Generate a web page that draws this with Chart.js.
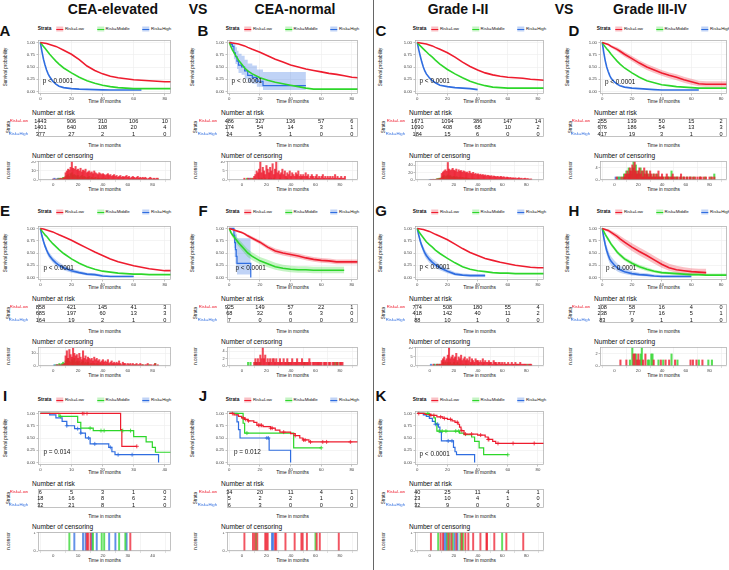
<!DOCTYPE html>
<html><head><meta charset="utf-8">
<script src="https://cdn.jsdelivr.net/npm/chart.js@4.4.1/dist/chart.umd.min.js"></script>
<style>
body{margin:0;width:729px;height:570px;position:relative;background:#fff;font-family:"Liberation Sans",Arial,sans-serif;overflow:hidden}
.t{position:absolute;white-space:nowrap;color:#111;line-height:1}
canvas{position:absolute}
</style></head><body>
<script>
// ---------- data ----------
const strata = ['Risk=Low', 'Risk=Middle', 'Risk=High'];
const gridT = [0,1,2,3,4,5,6,8,10,12,15,20,25,30,35,40,45,50,55,60,65,70,75,80,84];
const xTicks80 = [0,20,40,60,80];
const xTicks40 = [0,10,20,30,40];

// A  CEA-elevated
const survA_low  = [1,.995,.99,.985,.98,.97,.96,.94,.92,.89,.84,.76,.65,.52,.43,.36,.31,.28,.26,.24,.23,.22,.21,.2,.2];
const survA_mid  = [1,.96,.92,.88,.84,.8,.76,.69,.62,.56,.48,.38,.29,.22,.17,.13,.1,.08,.07,.06,.06,.06,.06,.06,.06];
const survA_high = [1,.82,.66,.54,.44,.36,.3,.21,.15,.11,.08,.06,.05,.045,.04,.035,.03,.03,.03,.03,.03];
const riskA_low = [1443,906,310,106,10], riskA_mid = [1401,640,108,20,4], riskA_high = [377,27,2,1,0];
const censA_low  = [1,0,1,0,1,1,2,1,2,3,8,10,12,11,14,20,13,12,15,11,12,10,13,9,11,10,12,8,9,10,8,9,7,10,8,7,6,8,7,6,7,6,5,6,7,5,6,4,5,6,4,5,3,4,5,3,4,3,4,5,3,4,2,3,4,3,2,3,4,2,3,2,3,2,3,2,1,2,3,2,1,2,1,2,2];
const censA_mid  = [0,0,0,1,1,2,1,2,3,2,4,5,6,4,7,8,5,6,5,4,5,3,4,5,3,4,3,2,3,4,2,3,2,2,3,1,2,2,1,2,1,1,2,1,1,1,0,1,1,0,1,0,1,0,1,0,1,0,0,1,0,1,0,0,1,0,0,1,0,0,1,0,0,0,1,0,0,0,1,0,0,1,0,0,1];
const censA_high = [1,2,1,1,2,1,1,1,0,1,1,0,1,0,1,0,0,1];

// B  CEA-normal
const survB_low = [1,.995,.99,.985,.98,.975,.97,.95,.93,.9,.86,.8,.73,.66,.6,.54,.5,.46,.43,.4,.37,.35,.32,.29,.28];
const survB_mid = [1,.92,.85,.8,.74,.69,.64,.56,.48,.42,.36,.28,.23,.19,.16,.13,.1,.07,.05,.05,.05,.05,.05,.05,.05];
const timeB_high = [0,1,2,3,4,5,6,8,10,12,15,18,22,50];
const survB_high = [1,.96,.92,.79,.71,.62,.54,.5,.42,.33,.29,.21,.12,.12];
const upB_high   = [1,1,1,.97,.9,.83,.77,.73,.65,.57,.53,.45,.4,.4];
const loB_high   = [1,.88,.82,.66,.56,.46,.38,.34,.26,.19,.16,.1,.03,0];
const riskB_low = [486,327,136,57,6], riskB_mid = [174,54,14,3,1], riskB_high = [24,5,1,0,0];
const censB_low = [0,0,1,0,0,1,0,1,0,1,2,3,5,4,6,10,4,7,5,3,8,6,4,7,5,9,3,6,10,4,5,3,4,6,3,5,2,4,3,5,2,4,3,2,4,3,5,2,3,2,3,2,4,2,3,1,2,3,2,1,2,3,1,2,1,2,3,1,2,1,2,1,2,1,2,1,3,1,2,1,1,2,1,1,2];
const censB_mid = [0,0,0,0,1,0,0,0,1,0,0,1,0,0,1,0,1,0,0,1,0,0,1,0,0,0,1,0,0,0,0,1,0,0,0,0,0,1,0,0,0,0,0,0,0,0,0,0,1,0,0,0,0,0,0,0,0,0,0,0,0,1];
const censB_high = [0,0,0,0,0,0,1,0,0,0,0,0,0,0,0,0,1,0,0,0,0,0,0,0,1];

// C  Grade I-II
const survC_low  = [1,.995,.99,.985,.98,.975,.97,.95,.93,.9,.86,.79,.7,.6,.51,.44,.38,.34,.31,.29,.28,.27,.25,.24,.23];
const survC_mid  = [1,.96,.93,.9,.87,.84,.81,.75,.7,.64,.56,.45,.36,.28,.21,.16,.12,.09,.08,.07,.07,.07,.07,.07,.07];
const survC_high = [1,.85,.72,.6,.5,.42,.36,.28,.22,.18,.13,.1,.08,.07,.06,.04];
const riskC_low = [1671,1094,386,147,14], riskC_mid = [1090,408,68,10,2], riskC_high = [184,15,6,0,0];
const censC_low  = [0,1,1,2,1,2,3,2,4,5,18,22,25,28,24,48,30,26,28,32,27,25,30,22,28,24,26,21,25,23,20,22,18,24,19,17,21,16,18,15,17,14,16,13,15,12,14,11,13,12,10,12,9,11,10,8,10,9,8,10,7,9,8,6,8,7,6,7,5,6,5,6,4,5,6,4,5,3,4,5,3,4,3,2,3];
const censC_mid  = [0,0,1,1,2,2,3,4,5,4,8,10,12,9,11,14,10,12,9,8,10,7,9,8,6,8,5,7,6,5,6,4,5,4,3,4,3,4,2,3,2,3,2,2,1,2,1,2,1,1,1,1,0,1,1,0,1,0,1,0,1,0,1,0,0,1,0,0,1,0,0,1,0,0,0,1,0,0,0,1,0,0,1,0,0];
const censC_high = [1,2,1,2,1,1,1,0,1,1,1,1,0,1,0,1,0,0,1,0,0,1,0,0,0,1];

// D  Grade III-IV
const survD_low  = [1,.99,.98,.97,.96,.94,.92,.89,.86,.82,.76,.67,.58,.5,.44,.38,.33,.29,.24,.2,.16,.15,.15,.15,.15];
const upD_low    = [1,1,.99,.985,.98,.965,.95,.925,.9,.865,.81,.725,.64,.56,.5,.44,.39,.35,.3,.26,.22,.21,.21,.21,.21];
const loD_low    = [1,.98,.97,.955,.94,.915,.89,.855,.82,.775,.71,.615,.52,.44,.38,.32,.27,.23,.18,.14,.11,.1,.1,.1,.1];
const survD_mid  = [1,.95,.91,.87,.84,.8,.76,.69,.62,.56,.48,.38,.29,.22,.18,.14,.12,.1,.09,.08,.07,.07,.07,.07,.07];
const survD_high = [1,.8,.63,.5,.41,.33,.27,.2,.15,.12,.09,.07,.06,.05,.04,.03,.03,.03,.03,.03,.03];
const riskD_low = [255,139,50,15,2], riskD_mid = [676,186,54,13,3], riskD_high = [417,19,3,1,0];
const censD_low  = [0,0,1,0,0,0,1,0,1,2,2,3,2,4,3,5,4,6,3,2,3,4,2,3,1,4,2,3,2,1,3,2,1,2,1,2,1,3,1,1,2,1,0,1,2,1,0,1,1,2,1,0,1,1,0,1,2,0,1,1,0,1,0,1,1,0,1,0,1,0,1,0,1,1,0,1,0,1,0,0,1,0,1,0,1];
const censD_mid  = [0,0,0,1,0,1,0,1,2,1,3,2,4,3,2,4,6,3,5,2,3,2,4,1,3,2,1,3,2,1,2,1,1,2,1,0,2,1,1,0,1,1,0,1,0,1,1,0,3,1,0,1,0,1,0,0,1,0,1,0,0,1,0,0,1,0,0,1,0,0,0,0,1,0,0,0,1,0,0,0,0,1,0,0,2];
const censD_high = [0,1,0,0,1,0,0,0,1,0,0,0,1,0,0,0,0,1];

// E  CEA-elevated
const survE_low  = [1,.995,.99,.98,.97,.96,.95,.93,.9,.87,.83,.76,.68,.6,.52,.45,.38,.32,.28,.24,.21,.18,.16,.14,.14];
const survE_mid  = [1,.95,.91,.87,.84,.8,.76,.69,.63,.57,.49,.38,.29,.22,.17,.13,.11,.09,.08,.07,.07,.06,.06,.06,.06];
const survE_high = [1,.85,.74,.64,.56,.49,.44,.36,.3,.25,.2,.14,.1,.07,.06,.03,.02,.02,.02,.02];
const upE_high   = [1,.89,.79,.7,.62,.55,.5,.42,.36,.31,.25,.18,.14,.1,.09,.06,.04,.04,.04,.04];
const loE_high   = [1,.81,.69,.59,.5,.43,.38,.3,.24,.2,.15,.1,.07,.04,.03,.01,.01,.01,.01,.01];
const riskE_low = [858,421,145,41,3], riskE_mid = [685,197,60,13,3], riskE_high = [164,19,2,1,0];
const censE_low  = [0,0,0,1,0,1,0,1,1,2,8,12,6,13,9,7,14,10,8,9,6,10,7,5,12,6,8,5,7,6,5,6,4,7,5,6,4,5,3,4,5,3,4,3,5,2,3,4,2,3,2,3,2,4,2,1,3,2,2,1,2,1,2,1,2,1,1,2,1,1,2,1,1,0,1,1,2,0,1,1,0,1,2,0,1];
const censE_mid  = [0,0,1,0,1,2,1,2,3,2,4,5,6,4,3,5,4,6,3,4,3,4,2,3,4,2,3,2,3,1,2,2,1,2,1,2,1,1,2,1,1,0,1,1,0,1,0,1,0,1,0,1,0,0,1,0,0,1,0,0,0,1,0,0,0,0,1,0,0,0,0,0,1,0,0,0,0,1,0,0,0,0,2,0,0];
const censE_high = [0,1,0,1,0,0,1,0,0,1,0,0,1,0,0,0,1,0,0,0,0,1];

// F  CEA-normal
const survF_low = [1,.99,.98,.97,.96,.95,.94,.92,.89,.85,.8,.72,.62,.54,.5,.47,.44,.4,.37,.35,.34,.32,.32,.32,.32];
const upF_low   = [1,1,.99,.985,.975,.97,.96,.945,.915,.88,.835,.76,.665,.59,.55,.52,.49,.45,.42,.4,.39,.37,.37,.37,.37];
const loF_low   = [1,.98,.97,.955,.945,.93,.92,.895,.865,.82,.765,.68,.575,.49,.45,.42,.39,.35,.32,.3,.29,.27,.27,.27,.27];
const survF_mid = [1,.92,.87,.83,.79,.75,.71,.64,.57,.5,.43,.34,.28,.22,.19,.17,.16,.16,.15,.15,.15,.15,.15];
const upF_mid   = [1,.96,.92,.89,.85,.82,.78,.72,.65,.58,.51,.42,.36,.3,.26,.24,.23,.23,.22,.22,.22,.22,.22];
const loF_mid   = [1,.88,.82,.77,.73,.68,.64,.56,.49,.42,.35,.27,.21,.16,.13,.11,.1,.1,.09,.09,.09,.09,.09];
const timeF_high = [0,3,3.5,4,4.5,5,14];
const survF_high = [1,.86,.71,.57,.43,.29,0];
const upF_high   = [1,1,.99,.95,.88,.8,.8];
const loF_high   = [1,.6,.42,.28,.15,.06,.06];
const riskF_low = [925,149,57,22,1], riskF_mid = [68,32,6,3,0], riskF_high = [7,0,0,0,0];
const censF_low  = [0,0,0,0,0,0,0,0,0,0,1,2,1,2,1,3,2,5,2,3,1,2,1,2,1,2,2,1,2,1,1,2,1,1,2,1,1,2,1,1,1,2,1,1,1,2,1,1,1,2,1,1,1,1,1,2,1,0,1,1,1,1,1,1,1,1,0,1,1,1,0,1,1,0,1,1,0,1,1,0,1,1,1,0,0];
const censF_mid  = [0,0,0,0,0,1,0,1,0,0,0,1,0,0,0,1,0,0,0,0,0,0,1,0,0,0,0,0,0,0,0,0,0,0,0,0,0,0,1,0,0,0,0,0,0,0,0,0,0,0,0,1,0,0,0,0,0,0,0,0,0,0,0,0,0,0,0,0,0,0,0,0,0,0,0,0,1,0,1,0];
const censF_high = [0,0,0,0,0,0,0,0,0,0,0,0,1];

// G  Grade I-II
const survG_low  = [1,.995,.99,.985,.98,.97,.96,.94,.91,.88,.84,.77,.68,.59,.51,.45,.39,.35,.31,.28,.25,.23,.21,.2,.2];
const survG_mid  = [1,.94,.89,.85,.81,.77,.73,.67,.62,.56,.49,.39,.3,.22,.17,.14,.12,.1,.09,.09,.08,.08,.08,.08,.08];
const survG_high = [1,.86,.74,.65,.57,.5,.45,.37,.31,.26,.2,.13,.07,.05,.04,.04,.04];
const upG_high   = [1,.9,.8,.71,.64,.57,.52,.44,.38,.33,.26,.18,.11,.08,.07,.07,.07];
const loG_high   = [1,.82,.68,.59,.5,.43,.38,.3,.25,.2,.15,.09,.04,.03,.02,.02,.02];
const riskG_low = [774,508,180,55,4], riskG_mid = [418,142,40,11,2], riskG_high = [88,10,1,0,0];
const censG_low  = [0,0,0,1,0,0,1,0,1,1,3,4,5,3,4,6,10,4,5,6,4,5,7,3,5,4,6,3,4,5,3,4,3,5,2,4,3,2,4,3,3,2,3,2,4,2,3,2,2,3,2,2,1,3,2,2,1,2,2,1,2,1,2,1,1,2,1,1,2,1,1,2,1,1,1,2,1,1,1,1,1,0,1,1,1];
const censG_mid  = [0,0,0,0,1,0,1,0,1,0,1,2,1,2,1,2,1,2,1,1,2,1,1,2,1,1,0,1,1,0,1,0,1,0,1,0,0,1,0,0,1,0,0,0,1,0,0,0,0,1,0,0,0,0,0,1,0,0,0,0,0,0,0,1,0,0,0,0,0,0,0,0,1,0,0,0,0,0,0,0,0,1,0,0,0];
const censG_high = [0,1,0,0,1,0,0,1,0,0,0,1,0,0,0,1];

// H  Grade III-IV
const survH_low  = [1,.99,.98,.97,.96,.94,.92,.88,.84,.79,.72,.62,.53,.45,.36,.27,.2,.16,.14,.12,.11,.1];
const upH_low    = [1,1,1,.99,.99,.975,.96,.93,.89,.85,.79,.7,.61,.53,.44,.35,.28,.24,.21,.19,.18,.18];
const loH_low    = [1,.97,.955,.94,.925,.9,.875,.83,.78,.72,.65,.54,.45,.37,.28,.2,.14,.1,.08,.06,.05,.05];
const survH_mid  = [1,.94,.88,.83,.78,.73,.68,.6,.52,.46,.38,.29,.22,.17,.13,.1,.09,.08,.07,.06,.06,.05,.05,.05,.05];
const upH_mid    = [1,.96,.91,.865,.82,.77,.72,.64,.56,.5,.42,.33,.26,.21,.16,.13,.12,.11,.1,.09,.09,.08,.08,.08,.08];
const loH_mid    = [1,.92,.85,.795,.74,.69,.64,.56,.48,.42,.34,.25,.18,.13,.1,.07,.06,.05,.04,.03,.03,.03,.03,.03,.03];
const survH_high = [1,.82,.67,.55,.46,.38,.33,.26,.2,.16,.12,.08,.06,.05,.03,.02,.02,.02,.02,.02];
const upH_high   = [1,.89,.76,.65,.56,.48,.43,.35,.29,.24,.19,.13,.1,.09,.06,.05,.05,.05,.05,.05];
const loH_high   = [1,.74,.58,.46,.37,.29,.25,.18,.13,.1,.07,.04,.03,.02,.01,.005,.005,.005,.005,.005];
const riskH_low = [108,58,16,4,0], riskH_mid = [238,77,16,5,1], riskH_high = [83,9,1,1,0];
const censH_lowT = [5,10,16,17,19,20,21,24,26,33,39,43,46,51,64,66,69,74];
const censH_lowN = [1,1,2,2,1,2,1,1,2,1,1,1,1,1,1,1,1,1];
const censH_midT = [13,15,18,22,23,28,29,31,32,37,41,48,53,71,79,82];
const censH_midN = [1,3,2,2,3,1,1,2,2,1,1,2,1,1,1,1];

// I  CEA-elevated (small)
const timeI_low = [0,25.8,26.2,31], survI_low = [1,.67,.33,.33];
const timeI_mid = [0,6,12,13,17,30,34,36,37,42], survI_mid = [1,.94,.82,.7,.65,.53,.42,.31,.21,.21];
const timeI_high = [0,3,5,7,8.5,11,13,14.5,16,22,23,24,38], survI_high = [1,.97,.91,.84,.75,.69,.6,.5,.38,.31,.22,.16,0];
const riskI_low = [6,5,3,1,0], riskI_mid = [18,16,8,6,2], riskI_high = [32,21,8,1,0];
const censI_low = [13.5,14,15,31], censI_mid = [6.5,16,19.5,20.5,26.5,29], censI_high = [8.5,12,13,15.5,17.5,22.5,25,29.5];

// J  CEA-normal (small)
const timeJ_low = [0,3,6,8,10,12,16,18,22,27,30,33,40,43,46,48,52,84];
const survJ_low = [1,.97,.94,.91,.88,.85,.82,.76,.73,.7,.66,.62,.59,.55,.5,.46,.42,.42];
const timeJ_mid = [0,9,10,42,60], survJ_mid = [1,.8,.6,.3,.3];
const timeJ_high = [0,5,6,7,26,40], survJ_high = [1,.83,.67,.5,.25,0];
const riskJ_low = [34,20,11,4,1], riskJ_mid = [5,2,2,1,0], riskJ_high = [6,3,0,0,0];
const censJ_low = [2,9,10.5,12.5,19,20,21,27,28,35.5,43,48.5,49.5,53,61,63.5,79], censJ_mid = [11.5,60], censJ_high = [24.5,25.5];

// K  Grade I-II (small)
const timeK_low = [0,5,9,13,17,20,23,25,27,28,29,31,40,45,47,50,52,84];
const survK_low = [1,.98,.96,.93,.9,.88,.85,.82,.78,.72,.65,.58,.56,.52,.47,.43,.39,.39];
const timeK_mid = [0,8,11,12,13,28,31,36,38,41,44,60], survK_mid = [1,.96,.91,.8,.64,.6,.57,.52,.43,.3,.16,.16];
const timeK_high = [0,4,6,8,10,12,14,15,16,24,25,26,38], survK_high = [1,.97,.94,.9,.84,.78,.72,.62,.44,.31,.22,.16,0];
const riskK_low = [40,25,11,4,1], riskK_mid = [23,10,4,1,0], riskK_high = [32,9,0,0,0];
const censK_low = [1,9,11,15.5,18,22,26.5,29.5,32,36,42,47,47.5,53.5,63.5,77.5], censK_mid = [7,14.5,16.5,19,25.5,27.5,60], censK_high = [12,13.5,20.5,23];

// ---------- style / layout ----------
const FONT = '"Liberation Sans", Arial, sans-serif';
const cols  = ['#ee1c2e', '#2dd62a', '#2f6de0'];
const light = ['rgba(238,28,46,0.28)', 'rgba(45,214,42,0.28)', 'rgba(47,109,224,0.3)'];
const barCol = ['rgba(238,28,46,0.8)', 'rgba(45,214,42,0.8)', 'rgba(47,109,224,0.8)'];
const tickCol = ['rgba(238,28,46,0.75)', 'rgba(45,214,42,0.75)', 'rgba(47,109,224,0.75)'];
const colL = [38, 227, 415, 600], colR = [171, 358, 544, 727];
const colTitleX = [6, 193, 381, 568];
const rowY = [40, 226, 411];
const letterX = [5, 203, 381, 574], letterY = [30, 210, 395], legendY = [29, 212, 400];

function lab(s, x, y, size, css) {
  const d = document.createElement('div');
  d.className = 't';
  d.textContent = s;
  d.style.cssText += 'left:' + x + 'px;top:' + y + 'px;font-size:' + size + 'px;' + (css || '');
  document.body.appendChild(d);
  return d;
}
const C = 'transform:translate(-50%,-50%);';
const LM = 'transform:translate(0,-50%);';
const ROT = 'transform:translate(-50%,-50%) rotate(-90deg);';

function mkCanvas(x, y, w, h) {
  const c = document.createElement('canvas');
  c.width = w; c.height = h;
  c.style.left = x + 'px'; c.style.top = y + 'px';
  c.style.width = w + 'px'; c.style.height = h + 'px';
  document.body.appendChild(c);
  return c;
}
function stepAt(t, s, tc) {
  let k = 0;
  while (k + 1 < t.length && t[k + 1] <= tc) k++;
  return s[k];
}
const frame = {
  id: 'frame',
  afterDatasetsDraw(chart) {
    const a = chart.chartArea, ctx = chart.ctx;
    ctx.save(); ctx.strokeStyle = '#a8a8a8'; ctx.lineWidth = 0.7;
    ctx.strokeRect(a.left + 0.5, a.top + 0.5, a.right - a.left - 1, a.bottom - a.top - 1);
    ctx.restore();
  }
};
function xScale(xmin, xmax, xt, h) {
  return {
    type: 'linear', min: xmin, max: xmax,
    afterBuildTicks: s => { s.ticks = xt.map(v => ({value: v})); },
    afterFit: s => { s.height = h; s.paddingLeft = 0; s.paddingRight = 0; },
    ticks: {font: {family: FONT, size: 4.3}, color: '#444', padding: 1, maxRotation: 0, autoSkip: false},
    grid: {color: '#ececec', lineWidth: 0.6, tickLength: 1.5, tickColor: '#999'},
    border: {display: false}
  };
}

function panel(p) {
  const L = colL[p.col], R = colR[p.col], y0 = rowY[p.row], tx = colTitleX[p.col];
  const W = R - L, cx = (L + R) / 2;
  const xt = p.xmax > 50 ? xTicks80 : xTicks40;
  const xmin = -p.xmax * 0.018, xmax = p.xmax;

  lab(p.id, letterX[p.col], letterY[p.row], 15, C + 'font-weight:bold;');

  // legend
  const lg = document.createElement('div');
  lg.className = 't';
  lg.style.cssText += 'left:' + cx + 'px;top:' + legendY[p.row] + 'px;font-size:4.4px;display:flex;align-items:center;' + C;
  let html = '<b style="margin-right:5px;font-size:4.8px">Strata</b>';
  strata.forEach((s, i) => {
    html += '<span style="display:inline-block;width:7px;height:5px;margin-right:1.5px;background:linear-gradient(to bottom,transparent 40%,' + cols[i] + ' 40%,' + cols[i] + ' 60%,transparent 60%),' + light[i] + '"></span><span style="margin-right:' + (i < 2 ? 13 : 0) + 'px">' + s + '</span>';
  });
  lg.innerHTML = html;
  document.body.appendChild(lg);

  // survival curves
  lab('Survival probability', tx, y0 + 27, 4.6, ROT);
  lab('Time in months', cx, y0 + 62, 4.8, C);
  const ds = [];
  p.curves.forEach((c, i) => {
    const t = c.t || gridT;
    const st = !!c.step;
    ds.push({data: c.s.map((v, k) => ({x: t[k], y: v})), borderColor: cols[i], borderWidth: st ? 1.2 : 1.6, pointRadius: 0, stepped: st, fill: false, order: 1});
    if (c.up) {
      ds.push({data: c.up.map((v, k) => ({x: t[k], y: v})), borderColor: 'transparent', borderWidth: 1, pointRadius: 0, stepped: st, fill: false, order: 2});
      ds.push({data: c.lo.map((v, k) => ({x: t[k], y: v})), borderColor: 'transparent', borderWidth: 1, pointRadius: 0, stepped: st, fill: '-1', backgroundColor: light[i], order: 2});
    }
    if (p.marks) {
      ds.push({data: p.marks[i].map(tc => ({x: tc, y: stepAt(t, c.s, tc)})), showLine: false, pointStyle: 'cross', pointRadius: 2, borderColor: cols[i], borderWidth: 0.8, order: 0});
    }
  });
  const pv = {
    id: 'pv',
    afterDatasetsDraw(chart) {
      const ctx = chart.ctx;
      ctx.save(); ctx.font = '6.4px ' + FONT; ctx.fillStyle = '#111'; ctx.textBaseline = 'middle';
      ctx.fillText(p.p, chart.scales.x.getPixelForValue(p.pAt[0]), chart.scales.y.getPixelForValue(p.pAt[1]));
      ctx.restore();
    }
  };
  new Chart(mkCanvas(L - 24, y0 - 3, W + 26, 54 + 3 + 7), {
    type: 'line',
    data: {datasets: ds},
    options: {
      responsive: false, animation: false, events: [],
      layout: {autoPadding: false, padding: {top: 3, right: 2, left: 0, bottom: 0}},
      plugins: {legend: {display: false}, tooltip: {enabled: false}},
      scales: {
        x: xScale(xmin, xmax, xt, 7),
        y: {
          min: -0.05, max: 1.05,
          afterBuildTicks: s => { s.ticks = [0, .25, .5, .75, 1].map(v => ({value: v})); },
          afterFit: s => { s.width = 24; s.paddingTop = 0; s.paddingBottom = 0; },
          ticks: {font: {family: FONT, size: 4.3}, color: '#444', padding: 1.5, callback: v => v.toFixed(2)},
          grid: {color: '#ececec', lineWidth: 0.6, tickLength: 1.5, tickColor: '#999'},
          border: {display: false}
        }
      }
    },
    plugins: [frame, pv]
  });

  // number at risk
  lab('Number at risk', L - 6, y0 + 73, 6.6, LM);
  lab('Strata', tx + 3, y0 + 87, 4.6, ROT);
  lab('Time in months', cx, y0 + 106, 4.8, C);
  const rt = {
    id: 'rt',
    afterDatasetsDraw(chart) {
      const ctx = chart.ctx, xs = chart.scales.x, ys = chart.scales.y;
      ctx.save(); ctx.font = '5.6px ' + FONT; ctx.fillStyle = '#111'; ctx.textBaseline = 'middle'; ctx.textAlign = 'center';
      p.risk.forEach((row, r) => row.forEach((v, k) => ctx.fillText(String(v), xs.getPixelForValue(xt[k]), ys.getPixelForValue(r) + 0.3)));
      ctx.restore();
    }
  };
  new Chart(mkCanvas(L - 36, y0 + 78, W + 38, 19 + 6), {
    type: 'line',
    data: {datasets: []},
    options: {
      responsive: false, animation: false, events: [],
      layout: {autoPadding: false, padding: {top: 0, right: 2, left: 0, bottom: 0}},
      plugins: {legend: {display: false}, tooltip: {enabled: false}},
      scales: {
        x: Object.assign(xScale(xmin, xmax, xt, 6), {grid: {display: false}}),
        y: {
          type: 'category', labels: strata, offset: true,
          afterFit: s => { s.width = 36; s.paddingTop = 0; s.paddingBottom = 0; },
          ticks: {font: {family: FONT, size: 4.2}, color: c => cols[c.index], padding: 2},
          grid: {display: false}, border: {display: false}
        }
      }
    },
    plugins: [frame, rt]
  });

  // number of censoring
  lab('Number of censoring', L - 6, y0 + 116, 6.6, LM);
  lab('n.censor', tx + 3, y0 + 130, 4.6, ROT);
  lab('Time in months', cx, y0 + 150, 4.8, C);
  const bd = p.cens.map((c, i) => {
    let pts;
    if (c.t && c.n) pts = c.t.map((t, k) => ({x: t, y: c.n[k]}));
    else if (c.t) pts = c.t.map(t => ({x: t, y: 1}));
    else pts = c.m.map((v, k) => ({x: k, y: v})).filter(d => d.y > 0);
    return {data: pts, backgroundColor: p.marks ? tickCol[i] : barCol[i], barThickness: p.marks ? 1.3 : 1.4, grouped: false};
  });
  new Chart(mkCanvas(L - 20, y0 + 121, W + 22, 19 + 6), {
    type: 'bar',
    data: {datasets: bd},
    options: {
      responsive: false, animation: false, events: [],
      layout: {autoPadding: false, padding: {top: 0, right: 2, left: 0, bottom: 0}},
      plugins: {legend: {display: false}, tooltip: {enabled: false}},
      scales: {
        x: xScale(xmin, xmax, xt, 6),
        y: {
          min: 0, max: p.censMax,
          afterBuildTicks: s => { s.ticks = p.censTicks.map(v => ({value: v})); },
          afterFit: s => { s.width = 20; s.paddingTop = 0; s.paddingBottom = 0; },
          ticks: {font: {family: FONT, size: 3.8}, color: '#444', padding: 1},
          grid: {color: '#ececec', lineWidth: 0.6, tickLength: 1.5, tickColor: '#999'},
          border: {display: false}
        }
      }
    },
    plugins: [frame]
  });
}

const panels = [
  {id: 'A', col: 0, row: 0, xmax: 84, p: 'p < 0.0001', pAt: [1.5, 0.2],
   curves: [{s: survA_low}, {s: survA_mid}, {s: survA_high}],
   risk: [riskA_low, riskA_mid, riskA_high], cens: [{m: censA_low}, {m: censA_mid}, {m: censA_high}], censMax: 21, censTicks: [0, 5, 10, 15, 20]},
  {id: 'B', col: 1, row: 0, xmax: 84, p: 'p < 0.0001', pAt: [1.5, 0.2],
   curves: [{s: survB_low}, {s: survB_mid}, {t: timeB_high, s: survB_high, up: upB_high, lo: loB_high, step: true}],
   risk: [riskB_low, riskB_mid, riskB_high], cens: [{m: censB_low}, {m: censB_mid}, {m: censB_high}], censMax: 10.5, censTicks: [0, 2.5, 5, 7.5, 10]},
  {id: 'C', col: 2, row: 0, xmax: 84, p: 'p < 0.0001', pAt: [1.5, 0.2],
   curves: [{s: survC_low}, {s: survC_mid}, {s: survC_high}],
   risk: [riskC_low, riskC_mid, riskC_high], cens: [{m: censC_low}, {m: censC_mid}, {m: censC_high}], censMax: 52, censTicks: [0, 10, 20, 30, 40, 50]},
  {id: 'D', col: 3, row: 0, xmax: 84, p: 'p < 0.0001', pAt: [1.8, 0.18],
   curves: [{s: survD_low, up: upD_low, lo: loD_low}, {s: survD_mid}, {s: survD_high}],
   risk: [riskD_low, riskD_mid, riskD_high], cens: [{m: censD_low}, {m: censD_mid}, {m: censD_high}], censMax: 6.3, censTicks: [0, 2, 4, 6]},
  {id: 'E', col: 0, row: 1, xmax: 84, p: 'p < 0.0001', pAt: [2, 0.18],
   curves: [{s: survE_low}, {s: survE_mid}, {s: survE_high, up: upE_high, lo: loE_high}],
   risk: [riskE_low, riskE_mid, riskE_high], cens: [{m: censE_low}, {m: censE_mid}, {m: censE_high}], censMax: 15, censTicks: [0, 5, 10, 15]},
  {id: 'F', col: 1, row: 1, xmax: 84, p: 'p < 0.0001', pAt: [4, 0.18],
   curves: [{s: survF_low, up: upF_low, lo: loF_low}, {s: survF_mid, up: upF_mid, lo: loF_mid}, {t: timeF_high, s: survF_high, up: upF_high, lo: loF_high, step: true}],
   risk: [riskF_low, riskF_mid, riskF_high], cens: [{m: censF_low}, {m: censF_mid}, {m: censF_high}], censMax: 5.2, censTicks: [0, 1, 2, 3, 4, 5]},
  {id: 'G', col: 2, row: 1, xmax: 84, p: 'p < 0.0001', pAt: [1.5, 0.2],
   curves: [{s: survG_low}, {s: survG_mid}, {s: survG_high, up: upG_high, lo: loG_high}],
   risk: [riskG_low, riskG_mid, riskG_high], cens: [{m: censG_low}, {m: censG_mid}, {m: censG_high}], censMax: 10.5, censTicks: [0, 2.5, 5, 7.5, 10]},
  {id: 'H', col: 3, row: 1, xmax: 84, p: 'p < 0.0001', pAt: [2.5, 0.18],
   curves: [{s: survH_low, up: upH_low, lo: loH_low}, {s: survH_mid, up: upH_mid, lo: loH_mid}, {s: survH_high, up: upH_high, lo: loH_high}],
   risk: [riskH_low, riskH_mid, riskH_high], cens: [{t: censH_lowT, n: censH_lowN}, {t: censH_midT, n: censH_midN}, {t: [], n: []}], censMax: 3.15, censTicks: [0, 1, 2, 3]},
  {id: 'I', col: 0, row: 2, xmax: 42, p: 'p = 0.014', pAt: [1, 0.2],
   curves: [{t: timeI_low, s: survI_low, step: true}, {t: timeI_mid, s: survI_mid, step: true}, {t: timeI_high, s: survI_high, step: true}],
   marks: [censI_low, censI_mid, censI_high],
   risk: [riskI_low, riskI_mid, riskI_high], cens: [{t: censI_low}, {t: censI_mid}, {t: censI_high}], censMax: 1.05, censTicks: [0, 1]},
  {id: 'J', col: 1, row: 2, xmax: 84, p: 'p = 0.012', pAt: [3, 0.21],
   curves: [{t: timeJ_low, s: survJ_low, step: true}, {t: timeJ_mid, s: survJ_mid, step: true}, {t: timeJ_high, s: survJ_high, step: true}],
   marks: [censJ_low, censJ_mid, censJ_high],
   risk: [riskJ_low, riskJ_mid, riskJ_high], cens: [{t: censJ_low}, {t: censJ_mid}, {t: censJ_high}], censMax: 1.05, censTicks: [0, 1]},
  {id: 'K', col: 2, row: 2, xmax: 84, p: 'p < 0.0001', pAt: [1.5, 0.16],
   curves: [{t: timeK_low, s: survK_low, step: true}, {t: timeK_mid, s: survK_mid, step: true}, {t: timeK_high, s: survK_high, step: true}],
   marks: [censK_low, censK_mid, censK_high],
   risk: [riskK_low, riskK_mid, riskK_high], cens: [{t: censK_low}, {t: censK_mid}, {t: censK_high}], censMax: 1.05, censTicks: [0, 1]}
];

// column titles and divider
lab('CEA-elevated', 113, 9, 14, C + 'font-weight:bold;');
lab('VS', 198, 9, 14, C + 'font-weight:bold;');
lab('CEA-normal', 295, 9, 14, C + 'font-weight:bold;');
lab('Grade I-II', 458, 9, 14, C + 'font-weight:bold;');
lab('VS', 564, 9, 14, C + 'font-weight:bold;');
lab('Grade III-IV', 650, 9, 14, C + 'font-weight:bold;');
const dv = document.createElement('div');
dv.style.cssText = 'position:absolute;left:373px;top:0;width:1px;height:570px;background:#666;';
document.body.appendChild(dv);

panels.forEach(panel);
</script>
</body></html>
